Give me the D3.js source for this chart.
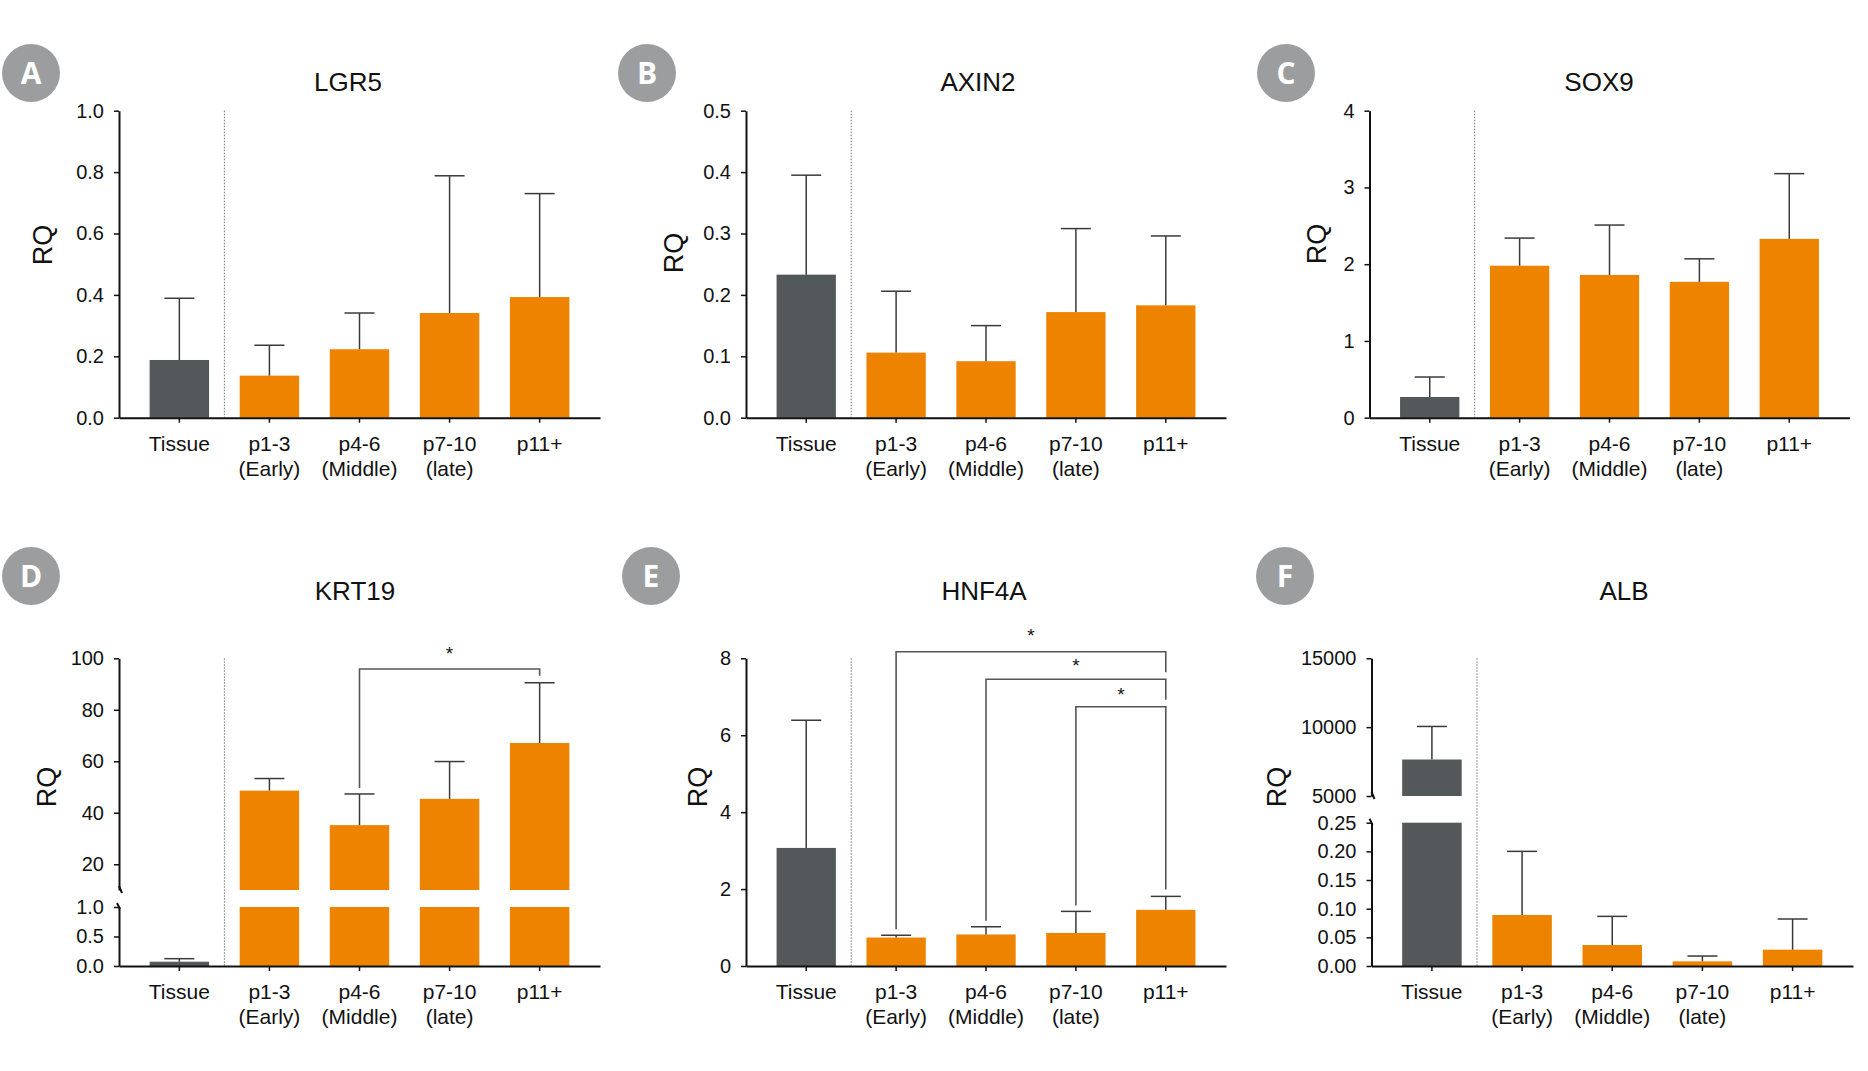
<!DOCTYPE html>
<html><head><meta charset="utf-8">
<script src="https://cdn.jsdelivr.net/npm/d3@7"></script>
<style>
body{margin:0;background:#fff;}
svg text{font-family:"Liberation Sans",Arial,Helvetica,sans-serif;}
</style></head>
<body><svg id="c" width="1868" height="1071"></svg>
<script>
// ---------- data ----------
const categories = ["Tissue","p1-3","p4-6","p7-10","p11+"];
const categorySubLabels = ["","(Early)","(Middle)","(late)",""];
const groupType = ["tissue","culture","culture","culture","culture"];

const lgr5Mean  = [0.188,0.137,0.223,0.341,0.393];
const lgr5SD    = [0.201,0.099,0.118,0.447,0.337];
const axin2Mean = [0.233,0.106,0.092,0.172,0.183];
const axin2SD   = [0.162,0.100,0.058,0.136,0.113];
const sox9Mean  = [0.27,1.98,1.86,1.77,2.33];
const sox9SD    = [0.26,0.36,0.65,0.30,0.85];
const krt19Mean = [0.073,48.6,35.2,45.4,67.1];
const krt19SD   = [0.051,4.7,12.1,14.5,23.4];
const hnf4aMean = [3.07,0.74,0.82,0.86,1.46];
const hnf4aSD   = [3.32,0.06,0.20,0.56,0.35];
const albMean   = [7650,0.089,0.0366,0.0081,0.0285];
const albSD     = [2400,0.111,0.050,0.0093,0.0535];

const lgr5Ticks  = [0,0.2,0.4,0.6,0.8,1.0];
const axin2Ticks = [0,0.1,0.2,0.3,0.4,0.5];
const sox9Ticks  = [0,1,2,3,4];
const krt19TicksLower = [0,0.5,1.0];
const krt19TicksUpper = [20,40,60,80,100];
const hnf4aTicks = [0,2,4,6,8];
const albTicksLower = [0,0.05,0.10,0.15,0.20,0.25];
const albTicksUpper = [5000,10000,15000];

const krt19Comparisons = [["p4-6","p11+"]];
const hnf4aComparisons = [["p1-3","p11+"],["p4-6","p11+"],["p7-10","p11+"]];

// ---------- layout ----------
const FONT = "'Liberation Sans',Arial,Helvetica,sans-serif";
const COLORS = {tissue:"#53585b", culture:"#ee8300"};
const panels = [
 {letter:"A", title:"LGR5", mean:lgr5Mean, sd:lgr5SD, x0:119, x1:600,
  segs:[{domain:[0,1], range:[417.7,110.7], ticks:lgr5Ticks, fmt:".1f"}],
  circle:[31,73], titleX:348, titleY:91, rq:[52,245]},
 {letter:"B", title:"AXIN2", mean:axin2Mean, sd:axin2SD, x0:746, x1:1226,
  segs:[{domain:[0,0.5], range:[417.7,110.7], ticks:axin2Ticks, fmt:".1f"}],
  circle:[647,73], titleX:978, titleY:91, rq:[683,253]},
 {letter:"C", title:"SOX9", mean:sox9Mean, sd:sox9SD, x0:1369.5, x1:1849.5,
  segs:[{domain:[0,4], range:[417.7,110.7], ticks:sox9Ticks, fmt:"d"}],
  circle:[1286,73], titleX:1599, titleY:91, rq:[1326,244]},
 {letter:"D", title:"KRT19", mean:krt19Mean, sd:krt19SD, x0:119, x1:600,
  segs:[{domain:[0,1], range:[966,907], ticks:krt19TicksLower, fmt:".1f"},
        {domain:[10,100], range:[890,658.3], ticks:krt19TicksUpper, fmt:"d"}],
  circle:[31,576], titleX:355, titleY:600, rq:[56,787],
  comps:krt19Comparisons, bracketY:[669], starDy:[9]},
 {letter:"E", title:"HNF4A", mean:hnf4aMean, sd:hnf4aSD, x0:746, x1:1226,
  segs:[{domain:[0,8], range:[966,658.3], ticks:hnf4aTicks, fmt:"d"}],
  circle:[651,576], titleX:984, titleY:600, rq:[707,787],
  comps:hnf4aComparisons, bracketY:[651.7,679.3,706.7], starDy:[10,7,6]},
 {letter:"F", title:"ALB", mean:albMean, sd:albSD, x0:1371.5, x1:1853,
  segs:[{domain:[0,0.25], range:[966,822.7], ticks:albTicksLower, fmt:".2f"},
        {domain:[5000,15000], range:[796,658.3], ticks:albTicksUpper, fmt:"d"}],
  circle:[1285,576], titleX:1624, titleY:600, rq:[1286,787]}
];

const svg = d3.select("#c");

panels.forEach(p => {
  const g = svg.append("g");
  p.segs.forEach(s => s.scale = d3.scaleLinear().domain(s.domain).range(s.range));
  const x = d3.scaleBand().domain(categories).range([p.x0, p.x1]).paddingInner(0.34).paddingOuter(0.34);
  const cx = c => x(c) + x.bandwidth()/2;
  const yBase = p.segs[0].range[0];
  const yTop = p.segs[p.segs.length-1].range[1];

  const segFor = v => { let s = p.segs[0]; p.segs.forEach(t => { if (v >= t.domain[0]) s = t; }); return s; };
  const yOf = v => segFor(v).scale(v);

  // circle label
  g.append("circle").attr("cx", p.circle[0]).attr("cy", p.circle[1]).attr("r", 29).attr("fill", "#9c9d9f");
  g.append("text").attr("x", p.circle[0]).attr("y", p.circle[1]).attr("dy", "0.36em")
    .attr("text-anchor","middle").attr("fill","#fff").attr("font-weight","bold")
    .style("font-family","'Open Sans',Arial,sans-serif").attr("font-size", 30).text(p.letter);

  // title
  g.append("text").attr("x", p.titleX).attr("y", p.titleY).attr("text-anchor","middle")
    .style("font-family", FONT).attr("font-size", 26).attr("fill","#111").text(p.title);

  // RQ
  g.append("text").attr("transform", `translate(${p.rq[0]},${p.rq[1]}) rotate(-90)`)
    .style("font-family", FONT).attr("text-anchor","middle").attr("font-size", 27).attr("fill","#111").text("RQ");

  // separator
  const sepX = (cx(categories[0]) + cx(categories[1]))/2;
  g.append("line").attr("x1", sepX).attr("x2", sepX).attr("y1", yTop).attr("y2", yBase)
    .attr("stroke","#777").attr("stroke-width",1).attr("stroke-dasharray","1.5,1.5");

  // bars
  categories.forEach((c, i) => {
    const m = p.mean[i];
    p.segs.forEach(s => {
      if (m > s.domain[0]) {
        const top = Math.min(m, s.domain[1]);
        g.append("rect").attr("x", x(c)).attr("width", x.bandwidth())
          .attr("y", s.scale(top)).attr("height", s.scale(s.domain[0]) - s.scale(top))
          .attr("fill", COLORS[groupType[i]]);
      }
    });
    // error bar (upper only)
    const s = segFor(m);
    const y1 = s.scale(m), y2 = s.scale(m + p.sd[i]);
    g.append("line").attr("x1", cx(c)).attr("x2", cx(c)).attr("y1", y1).attr("y2", y2)
      .attr("stroke","#3a3a3a").attr("stroke-width",1.5);
    g.append("line").attr("x1", cx(c)-15).attr("x2", cx(c)+15).attr("y1", y2).attr("y2", y2)
      .attr("stroke","#3a3a3a").attr("stroke-width",1.5);
  });

  // y axes
  p.segs.forEach(s => {
    const ax = g.append("g").attr("transform", `translate(${p.x0},0)`)
      .call(d3.axisLeft(s.scale).tickValues(s.ticks).tickFormat(d3.format(s.fmt))
        .tickSize(5).tickSizeOuter(0).tickPadding(10));
    ax.attr("font-family", null);
    ax.select(".domain").attr("stroke","#111").attr("stroke-width",2);
    ax.selectAll(".tick line").attr("stroke","#111").attr("stroke-width",1.5);
    ax.selectAll(".tick text").attr("font-size",20).attr("fill","#111")
      .style("font-family", FONT);
  });
  // break marks
  if (p.segs.length > 1) {
    const up = p.segs[1].range[0], lo = p.segs[0].range[1];
    g.append("path").attr("d", `M${p.x0},${up-4} L${p.x0+3},${up+3}`)
      .attr("stroke","#111").attr("stroke-width",2).attr("fill","none");
    g.append("path").attr("d", `M${p.x0-2},${lo-4} L${p.x0+1},${lo+2}`)
      .attr("stroke","#111").attr("stroke-width",2).attr("fill","none");
  }

  // x axis
  const xa = g.append("g").attr("transform", `translate(0,${yBase})`)
    .call(d3.axisBottom(x).tickSize(5).tickSizeOuter(0).tickFormat(""));
  xa.select(".domain").attr("stroke","#111").attr("stroke-width",2);
  xa.selectAll(".tick line").attr("stroke","#111").attr("stroke-width",1.5);
  categories.forEach((c, i) => {
    const t = g.append("text").attr("text-anchor","middle").attr("font-size",21).attr("fill","#111")
      .style("font-family", FONT);
    t.append("tspan").attr("x", cx(c)).attr("y", yBase + 33).text(c);
    if (categorySubLabels[i]) t.append("tspan").attr("x", cx(c)).attr("y", yBase + 58).text(categorySubLabels[i]);
  });

  // significance brackets
  if (p.comps) {
    p.comps.forEach((cmp, k) => {
      const a = categories.indexOf(cmp[0]), b = categories.indexOf(cmp[1]);
      const by = p.bracketY[k];
      const leftEnd = yOf(p.mean[a] + p.sd[a]) - 6;
      const rightEnd = (k + 1 < p.comps.length && p.comps[k+1][1] === cmp[1])
        ? p.bracketY[k+1] - 7 : yOf(p.mean[b] + p.sd[b]) - 7;
      const xa_ = cx(categories[a]), xb_ = cx(categories[b]);
      g.append("path").attr("d", `M${xa_},${leftEnd} V${by} H${xb_} V${rightEnd}`)
        .attr("fill","none").attr("stroke","#555").attr("stroke-width",1.6);
      g.append("text").attr("x", (xa_+xb_)/2).attr("y", by - p.starDy[k]).attr("text-anchor","middle")
        .style("font-family", FONT).attr("font-size",19).attr("fill","#111").text("*");
    });
  }
});
</script>
</body></html>
